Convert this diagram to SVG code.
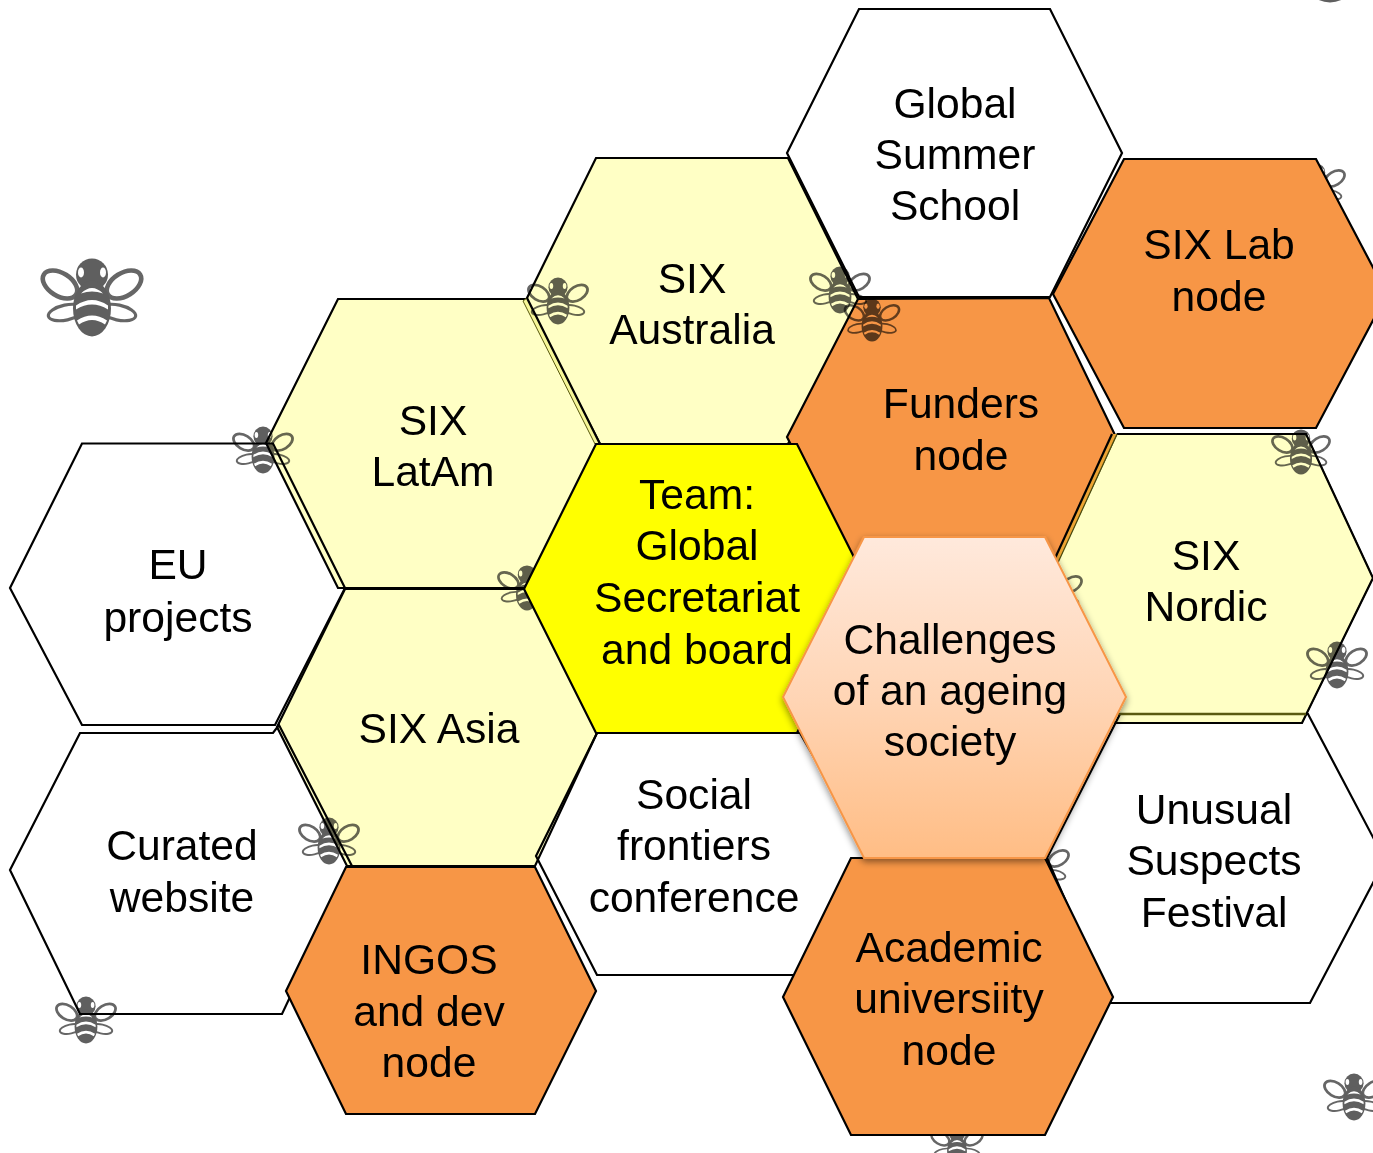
<svg xmlns="http://www.w3.org/2000/svg" width="1373" height="1153" viewBox="0 0 1373 1153">
<style>
.h{stroke:#000;stroke-width:2.2;stroke-linejoin:miter}
.n{fill:none}.y{fill:#ffffc5}.o{fill:#f79646}.t{fill:#ffff00}
.l{stroke:#000;stroke-width:2.2;fill:none}
text{font-family:"Liberation Sans",Arial,sans-serif;font-size:42.6px;fill:#000;text-anchor:middle}
.b{mix-blend-mode:multiply}
</style>
<defs>
<linearGradient id="g" x1="0" y1="0" x2="0" y2="1"><stop offset="0" stop-color="#ffe9dc"/><stop offset="0.5" stop-color="#ffd5b5"/><stop offset="1" stop-color="#ffbd85"/></linearGradient>
<filter id="s" x="-10%" y="-10%" width="120%" height="120%"><feDropShadow dx="0" dy="3" stdDeviation="3.5" flood-color="#000" flood-opacity="0.45"/></filter>
<symbol id="bee" overflow="visible" viewBox="-50 -39 100 78" width="100" height="78">
<g fill="none" stroke="#666">
<ellipse cx="-32" cy="-13" rx="19" ry="11.5" stroke-width="4.6" transform="rotate(32 -32 -13)"/>
<ellipse cx="32" cy="-13" rx="19" ry="11.5" stroke-width="4.6" transform="rotate(-32 32 -13)"/>
<ellipse cx="-26" cy="15" rx="18" ry="7.5" stroke-width="3.2" transform="rotate(-12 -26 15)"/>
<ellipse cx="26" cy="15" rx="18" ry="7.5" stroke-width="3.2" transform="rotate(12 26 15)"/>
</g>
<circle cx="0" cy="-23" r="16" fill="#5f5f5f"/>
<ellipse cx="0" cy="11" rx="19" ry="28" fill="#5f5f5f"/>
<ellipse cx="-11" cy="-25" rx="3" ry="5" fill="#fff"/><ellipse cx="11" cy="-25" rx="3" ry="5" fill="#fff"/>
<g fill="#fff">
<path d="M-11 -4Q0 -15 11 -4Q0 -8 -11 -4Z"/>
<path d="M-16 8Q0 -3 16 8L16 12Q0 2 -16 12Z"/>
<path d="M-15 23Q0 13 15 23L13 27Q0 18 -13 27Z"/>
</g>
</symbol>
</defs>
<g id="bees-back">
<use href="#bee" class="b" transform="translate(1330 -75.5) scale(2)" x="-50" y="-39"/>
<use href="#bee" class="b" transform="translate(1316 186) scale(.58)" x="-50" y="-39"/>
<use href="#bee" class="b" transform="translate(1040 866) scale(.58)" x="-50" y="-39"/>
<use href="#bee" class="b" transform="translate(957 1145) scale(.52)" x="-50" y="-39"/>
</g>
<g id="connectors"></g>
<g id="n-latam"><polygon class="h y" points="338,299 525,299 597,444 525,588 338,588 266,443"/><text x="433" y="434.5">SIX</text><text x="433" y="486">LatAm</text></g>
<g id="n-australia"><polygon class="h y" points="596,158 788,158 859,301 788,444 600,444 526,300"/><polygon points="523,301 527,298 600,444 595,444" fill="#f7f798" stroke="#5a5a10" stroke-width="1"/><line class="l" x1="527" y1="298" x2="600" y2="444"/><text x="692" y="292.5">SIX</text><text x="692" y="344">Australia</text></g>
<g id="n-global"><polygon class="h n" points="859,9 1050,9 1122,153 1050,297 859,297 787,153"/><text x="955" y="118">Global</text><text x="955" y="169">Summer</text><text x="955" y="220">School</text></g>
<g id="n-eu"><polygon class="h n" points="82,443.500 273,443.500 345,588 275,725 82,725 10,588"/><text x="178" y="579">EU</text><text x="178" y="632">projects</text></g>
<g id="n-asia"><polygon class="h y" points="345,589 535,589 597,733 535,866 347,866 277,727"/><text x="439" y="743">SIX Asia</text></g>
<g id="n-curated"><polygon class="h n" points="80,733 273,733 279,725 352,866 282,1014 80,1014 10,870"/><text x="182" y="860">Curated</text><text x="182" y="912">website</text></g>
<g id="n-social"><polygon class="h n" points="597,733 800,733 870,855 800,975 597,975 536,856"/><text x="694" y="809">Social</text><text x="694" y="860">frontiers</text><text x="694" y="912">conference</text></g>
<g id="n-funders"><polygon class="h o" points="858,299 1049,298 1115,435 1050,576 858,576 787,437"/><text x="961" y="418">Funders</text><text x="961" y="469.500">node</text></g>
<g id="n-lab"><polygon class="h o" points="1124,159 1316,159 1387,294 1316,428 1124,428 1053,294"/><text x="1219" y="259">SIX Lab</text><text x="1219" y="310.500">node</text></g>
<g id="n-nordic"><polygon class="y" stroke="#4a4a10" stroke-width="1.4" points="1117,434 1306,434 1373,578 1302,723 1115,723 1050,578"/><polyline class="l" points="1117,434 1306,434 1373,578 1302,723 1115,723"/><polygon points="1112,434 1117,434 1056,567 1051,567" fill="#eda433"/><line class="l" x1="1112" y1="434" x2="1051" y2="567"/><line x1="1117" y1="434" x2="1056" y2="567" stroke="#4a4a10" stroke-width="1.2"/><text x="1206" y="570">SIX</text><text x="1206" y="621">Nordic</text></g>
<g id="n-unusual"><polygon class="h n" points="1120,714 1308,714 1385,860 1310,1003 1110,1003 1047,858"/><line x1="1118" y1="714" x2="1306" y2="714" stroke="#5a5a10" stroke-width="2.4"/><text x="1214" y="824">Unusual</text><text x="1214" y="875">Suspects</text><text x="1214" y="927">Festival</text></g>
<g id="bees-mid">
<use href="#bee" class="b" transform="translate(527 588) scale(.58)" x="-50" y="-39"/>
<use href="#bee" class="b" transform="translate(1053 592) scale(.58)" x="-50" y="-39"/>
</g>
<g id="n-team"><polygon class="h t" points="596,444 797,444 870,589 797,733 596,733 524,589"/><text x="697" y="509">Team:</text><text x="697" y="560">Global</text><text x="697" y="612">Secretariat</text><text x="697" y="664">and board</text></g>
<g id="n-ingos"><polygon class="h o" points="346,867 535,867 596,991 535,1114 346,1114 286,991"/><text x="429" y="974">INGOS</text><text x="429" y="1026">and dev</text><text x="429" y="1077">node</text></g>
<g id="n-academic"><polygon class="h o" points="851,858 1045,858 1113,997 1045,1135 851,1135 783,997"/><text x="949" y="962">Academic</text><text x="949" y="1013">universiity</text><text x="949" y="1065">node</text></g>
<g id="n-challenges"><polygon fill="url(#g)" stroke="#f79646" stroke-width="2" filter="url(#s)" points="864,537 1045,537 1126,697 1045,858 864,858 783,697"/><text x="950" y="654">Challenges</text><text x="950" y="705">of an ageing</text><text x="950" y="756">society</text></g>
<g id="bees-front">
<use href="#bee" transform="translate(92 297.5)" x="-50" y="-39"/>
<use href="#bee" class="b" transform="translate(558 301) scale(.6)" x="-50" y="-39"/>
<use href="#bee" class="b" transform="translate(840 290) scale(.6)" x="-50" y="-39"/>
<use href="#bee" class="b" transform="translate(872 320) scale(.55)" x="-50" y="-39"/>
<use href="#bee" class="b" transform="translate(263 450) scale(.6)" x="-50" y="-39"/>
<use href="#bee" class="b" transform="translate(329 841) scale(.6)" x="-50" y="-39"/>
<use href="#bee" class="b" transform="translate(86 1020) scale(.6)" x="-50" y="-39"/>
<use href="#bee" class="b" transform="translate(1301 452) scale(.58)" x="-50" y="-39"/>
<use href="#bee" class="b" transform="translate(1337 665) scale(.6)" x="-50" y="-39"/>
<use href="#bee" transform="translate(1354 1097) scale(.6)" x="-50" y="-39"/>
</g>
</svg>
